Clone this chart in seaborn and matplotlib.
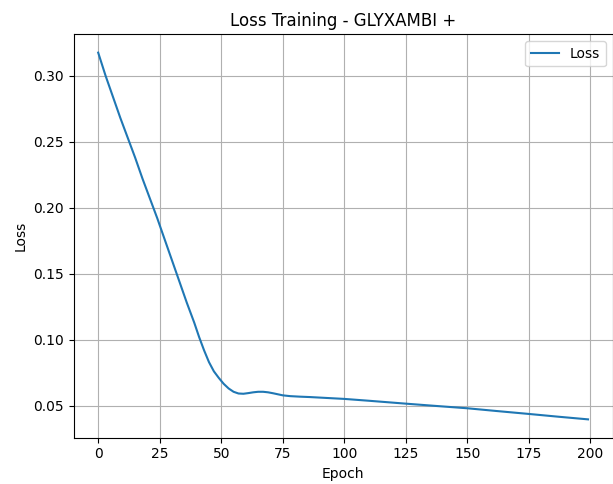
import numpy as np
import pandas as pd
import matplotlib
matplotlib.use("Agg")
import matplotlib.pyplot as plt
import seaborn as sns

# Values (epoch, loss)
epochs = [0, 3, 6, 9, 12, 15, 18, 21, 24, 27, 30, 33, 36, 39, 41, 43, 45, 47, 49, 51, 53,
          55, 57, 59, 61, 63, 65, 67, 69, 71, 73, 75, 78, 82, 86, 90, 95, 100, 110, 125,
          137, 150, 162, 175, 187, 199]
loss = [0.3175, 0.300, 0.284, 0.268, 0.253, 0.238, 0.222, 0.207, 0.192, 0.176, 0.160,
        0.144, 0.128, 0.113, 0.102, 0.092, 0.083, 0.076, 0.071, 0.0665, 0.063, 0.0605,
        0.0592, 0.0590, 0.0595, 0.0601, 0.0605, 0.0605, 0.0601, 0.0594, 0.0586, 0.0578,
        0.0572, 0.0568, 0.0565, 0.0561, 0.0556, 0.0551, 0.0537, 0.0515, 0.0498, 0.0480,
        0.0459, 0.0437, 0.0416, 0.0396]

title = "Loss Training - GLYXAMBI +"
x_label = "Epoch"
y_label = "Loss"
series_name = "Loss"
x_ticks = [0, 25, 50, 75, 100, 125, 150, 175, 200]
y_ticks = [0.05, 0.10, 0.15, 0.20, 0.25, 0.30]

df = pd.DataFrame({x_label: epochs, y_label: loss})

fig = plt.figure(figsize=(6.13, 4.84), dpi=100)
ax = fig.add_axes([73.7/613, (484-437.7)/484, (612.5-73.7)/613, (437.7-34.3)/484])
sns.lineplot(data=df, x=x_label, y=y_label, ax=ax, label=series_name,
             color="#1f77b4", linewidth=1.5)
ax.set_title(title, fontsize=12)
ax.set_xlabel(x_label)
ax.set_ylabel(y_label)
ax.set_xticks(x_ticks)
ax.set_yticks(y_ticks)
ax.grid(True, color="#b0b0b0", linewidth=0.8)
ax.legend(loc="upper right")
fig.savefig("out.png", dpi=100)
